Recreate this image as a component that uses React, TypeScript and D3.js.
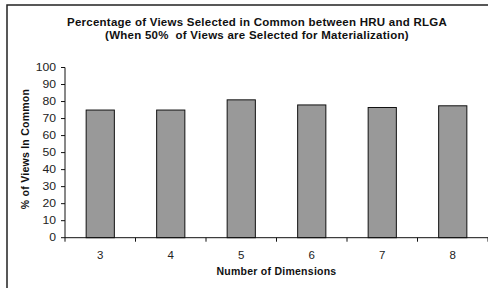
import { useEffect, useRef } from 'react'
import * as d3 from 'd3'

const dims = ['3', '4', '5', '6', '7', '8']
const common = [75, 75, 81, 78, 76.5, 77.5]
const yTicks = [0, 10, 20, 30, 40, 50, 60, 70, 80, 90, 100]
const titleLines = [
  'Percentage of Views Selected in Common between HRU and RLGA',
  '(When 50%  of Views are Selected for Materialization)',
]

const W = 488
const H = 288
const FONT = '"Liberation Sans", Arial, sans-serif'

export default function App() {
  const svgRef = useRef<SVGSVGElement>(null)

  useEffect(() => {
    if (!svgRef.current) return
    const svg = d3.select(svgRef.current)
    svg.selectAll('*').remove()

    // outer chart frame (cropped on right and bottom)
    svg.append('rect')
      .attr('x', 7).attr('y', 5).attr('width', 500).attr('height', 300)
      .attr('fill', 'none').attr('stroke', '#222').attr('stroke-width', 1.5)

    const x = d3.scaleBand().domain(dims).range([65, 488]).paddingInner(0.6).paddingOuter(0.3)
    const y = d3.scaleLinear().domain([0, 100]).range([237.7, 67.5])
    const step = x.step()

    // title
    svg.append('g').selectAll('text').data(titleLines).join('text')
      .attr('x', 257).attr('y', (_, i) => 26 + i * 12.5)
      .attr('text-anchor', 'middle').attr('font-family', FONT)
      .attr('font-weight', 'bold').attr('font-size', 11.5).attr('letter-spacing', 0.25)
      .style('white-space', 'pre')
      .attr('fill', '#111')
      .text(d => d)

    // bars
    svg.append('g').selectAll('rect').data(common).join('rect')
      .attr('x', (_, i) => x(dims[i])!)
      .attr('y', d => y(d))
      .attr('width', x.bandwidth())
      .attr('height', d => y(0) - y(d))
      .attr('fill', '#999999').attr('stroke', '#111').attr('stroke-width', 1)

    // y axis
    const gy = svg.append('g')
    gy.append('line').attr('x1', 65).attr('x2', 65).attr('y1', y(100)).attr('y2', y(0))
      .attr('stroke', '#111')
    gy.selectAll('line.t').data(yTicks).join('line').attr('class', 't')
      .attr('x1', 61).attr('x2', 65).attr('y1', d => y(d)).attr('y2', d => y(d))
      .attr('stroke', '#111')
    gy.selectAll('text').data(yTicks).join('text')
      .attr('transform', d => `translate(56,${y(d) + 3.5}) scale(1.22,1)`)
      .attr('text-anchor', 'end').attr('font-family', FONT).attr('font-size', 10)
      .attr('fill', '#222')
      .text(d => d)

    // x axis
    const gx = svg.append('g')
    gx.append('line').attr('x1', 65).attr('x2', 488).attr('y1', y(0)).attr('y2', y(0))
      .attr('stroke', '#111')
    gx.selectAll('line.t').data(dims.concat(['end'])).join('line').attr('class', 't')
      .attr('x1', (_, i) => 65 + i * step).attr('x2', (_, i) => 65 + i * step)
      .attr('y1', y(0)).attr('y2', y(0) + 4)
      .attr('stroke', '#111')
    gx.selectAll('text').data(dims).join('text')
      .attr('transform', d => `translate(${x(d)! + x.bandwidth() / 2},258.5) scale(1.15,1)`)
      .attr('text-anchor', 'middle').attr('font-family', FONT).attr('font-size', 10)
      .attr('fill', '#222')
      .text(d => d)

    // axis titles
    svg.append('text')
      .attr('x', 276.5).attr('y', 275)
      .attr('text-anchor', 'middle').attr('font-family', FONT)
      .attr('font-weight', 'bold').attr('font-size', 10.5).attr('letter-spacing', 0.25)
      .attr('fill', '#111')
      .text('Number of Dimensions')
    svg.append('text')
      .attr('transform', 'translate(28.5,149) rotate(-90)')
      .attr('text-anchor', 'middle').attr('font-family', FONT)
      .attr('font-weight', 'bold').attr('font-size', 10.5).attr('letter-spacing', 0.25)
      .attr('fill', '#111')
      .text('% of Views In Common')
  }, [])

  return (
    <svg ref={svgRef} width={W} height={H}
      style={{ position: 'absolute', left: 0, top: 0, background: '#fff', display: 'block' }} />
  )
}
